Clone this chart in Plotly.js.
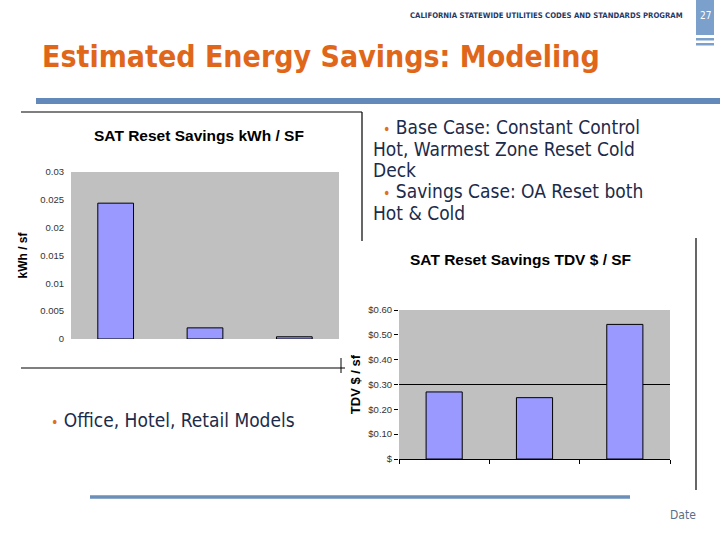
<!DOCTYPE html>
<html>
<head>
<meta charset="utf-8">
<script src="https://cdn.plot.ly/plotly-3.0.1.min.js"></script>
<style>
html,body{margin:0;padding:0;background:#fff;}
#chart{width:720px;height:540px;}
</style>
</head>
<body>
<div id="chart"></div>
<script>
// ---- data ----
const categories = ['Office', 'Hotel', 'Retail'];
const kwhValues = [0.0244, 0.0020, 0.0004];
const tdvValues = [0.270, 0.247, 0.542];
const kwhTickVals = [0, 0.005, 0.01, 0.015, 0.02, 0.025, 0.03];
const kwhTickText = ['0', '0.005', '0.01', '0.015', '0.02', '0.025', '0.03'];
const tdvTickVals = [0, 0.1, 0.2, 0.3, 0.4, 0.5, 0.6];
const tdvTickText = ['$', '$0.10', '$0.20', '$0.30', '$0.40', '$0.50', '$0.60'];

const W = 720, H = 540;
const px = v => v / W;
const py = v => 1 - v / H;

const BAR = '#9999FF';
const NAVY = '#1B2B4B';
const ORANGE = '#E07020';
const CHART_FONT = 'Liberation Sans, Arial, sans-serif';
const SLIDE_FONT = 'DejaVu Sans Condensed, DejaVu Sans, sans-serif';

const traces = [
  {
    type: 'bar', x: categories, y: kwhValues, xaxis: 'x', yaxis: 'y',
    marker: {color: BAR, line: {color: '#000', width: 1}},
    width: 0.4, hoverinfo: 'skip', showlegend: false
  },
  {
    type: 'bar', x: categories, y: tdvValues, xaxis: 'x2', yaxis: 'y2',
    marker: {color: BAR, line: {color: '#000', width: 1}},
    width: 0.4, hoverinfo: 'skip', showlegend: false
  }
];

function ann(text, x, y, opts) {
  return Object.assign({
    text: text, x: px(x), y: py(y), xref: 'paper', yref: 'paper',
    xanchor: 'left', yanchor: 'middle', showarrow: false,
    font: {family: SLIDE_FONT, size: 19, color: NAVY}
  }, opts || {});
}
const bullet = '<span style="color:' + ORANGE + ';font-size:14px">•</span> ';

const annotations = [
  ann('<b>CALIFORNIA STATEWIDE UTILITIES CODES AND STANDARDS PROGRAM</b>', 685, 15,
      {xanchor: 'right', font: {family: SLIDE_FONT, size: 7.7, color: '#1F3864'}}),
  ann('27', 705, 15, {xanchor: 'center', font: {family: SLIDE_FONT, size: 10, color: '#FFFFFF'}}),
  ann('<b>Estimated Energy Savings: Modeling</b>', 40, 57,
      {font: {family: SLIDE_FONT, size: 30, color: '#E0661A'}}),
  ann(bullet + 'Base Case: Constant Control', 381, 127),
  ann('Hot, Warmest Zone Reset Cold', 371, 149),
  ann('Deck', 371, 170),
  ann(bullet + 'Savings Case: OA Reset both', 381, 191),
  ann('Hot &amp; Cold', 371, 213),
  ann(bullet + 'Office, Hotel, Retail Models', 49, 420),
  ann('Date', 668, 515, {font: {family: SLIDE_FONT, size: 12, color: '#5A6E8A'}}),
  ann('<b>SAT Reset Savings kWh / SF</b>', 199, 136,
      {xanchor: 'center', font: {family: CHART_FONT, size: 15.5, color: '#000'}}),
  ann('<b>SAT Reset Savings TDV $ / SF</b>', 520, 259,
      {xanchor: 'center', font: {family: CHART_FONT, size: 15.5, color: '#000'}})
];

function rect(x0, y0, x1, y1, color) {
  return {type: 'rect', xref: 'paper', yref: 'paper',
    x0: px(x0), x1: px(x1), y0: py(y1), y1: py(y0),
    fillcolor: color, line: {width: 0}, layer: 'above'};
}
function line(x0, y0, x1, y1, color, w) {
  return {type: 'line', xref: 'paper', yref: 'paper',
    x0: px(x0), x1: px(x1), y0: py(y0), y1: py(y1),
    line: {color: color, width: w}, layer: 'above'};
}

const shapes = [
  rect(696, 0, 714, 35, '#7BA0CC'),
  rect(696, 38, 714, 40.5, '#7BA0CC'),
  rect(696, 43, 714, 45.5, '#7BA0CC'),
  rect(36, 98, 720, 104, '#6389BB'),
  line(90, 497, 630, 497, '#6B8FB8', 3.5),
  // left chart frame
  line(21, 112, 362, 112, '#000', 1.2),
  line(362, 112, 362, 241, '#000', 1.2),
  line(21, 368, 345, 368, '#000', 1.2),
  line(341, 358, 341, 373, '#000', 1),
  // right chart frame
  line(696, 238, 696, 490, '#000', 1.2),
  // single gridline at $0.30
  {type: 'line', xref: 'x2', yref: 'y2', x0: -0.5, x1: 2.5, y0: 0.3, y1: 0.3,
   line: {color: '#000', width: 1}, layer: 'below'}
];

const layout = {
  width: W, height: H,
  margin: {l: 0, r: 0, t: 0, b: 0},
  paper_bgcolor: '#FFFFFF',
  plot_bgcolor: '#C0C0C0',
  showlegend: false,
  bargap: 0.6,
  xaxis: {
    domain: [px(71), px(339)], anchor: 'y', type: 'category',
    range: [-0.5, 2.5], showticklabels: false, ticks: '', showgrid: false,
    zeroline: false, showline: false, fixedrange: true
  },
  yaxis: {
    domain: [py(339), py(172)], anchor: 'x', range: [0, 0.03],
    tickvals: kwhTickVals, ticktext: kwhTickText,
    tickfont: {family: CHART_FONT, size: 9.5, color: '#333'},
    ticks: '', ticklabelstandoff: 6, showgrid: false, zeroline: false, showline: false,
    title: {text: '<b>kWh / sf</b>', standoff: 10,
            font: {family: CHART_FONT, size: 12, color: '#000'}},
    fixedrange: true
  },
  xaxis2: {
    domain: [px(399), px(670)], anchor: 'y2', type: 'category',
    range: [-0.5, 2.5], showticklabels: false, ticks: 'outside', ticklen: 4,
    tickcolor: '#000', tickson: 'boundaries', showgrid: false,
    zeroline: false, showline: true, linecolor: '#000', linewidth: 1, fixedrange: true
  },
  yaxis2: {
    domain: [py(459), py(310)], anchor: 'x2', range: [0, 0.6],
    tickvals: tdvTickVals, ticktext: tdvTickText,
    tickfont: {family: CHART_FONT, size: 9.5, color: '#333'},
    ticks: 'outside', ticklen: 4, tickcolor: '#000',
    showgrid: false, zeroline: false, showline: false,
    title: {text: '<b>TDV $ / sf</b>', standoff: 4,
            font: {family: CHART_FONT, size: 13, color: '#000'}},
    fixedrange: true
  },
  annotations: annotations,
  shapes: shapes
};

Plotly.newPlot('chart', traces, layout, {displayModeBar: false, staticPlot: true});
</script>
</body>
</html>
